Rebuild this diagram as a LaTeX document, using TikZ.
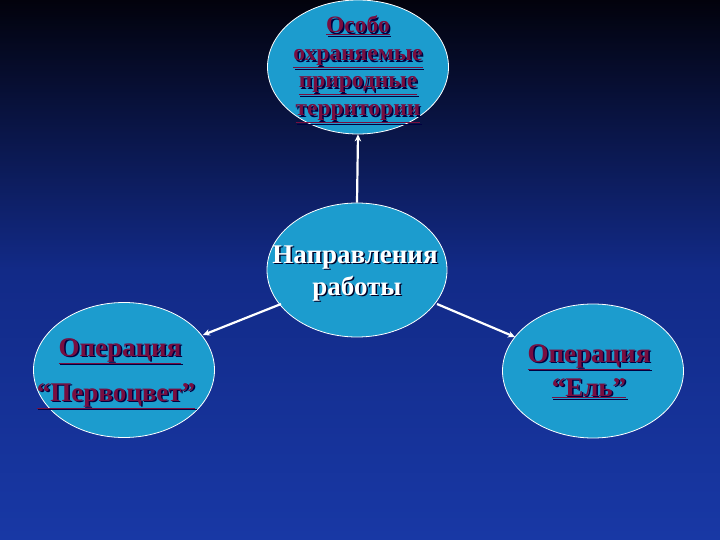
\documentclass[tikz,border=0pt]{standalone}
\usepackage{fontspec}
\setmainfont{Liberation Serif}
\usetikzlibrary{shapes.geometric,arrows.meta}
\definecolor{bubble}{RGB}{28,156,206}
\definecolor{maroon}{RGB}{120,14,64}
\definecolor{bgtop}{RGB}{2,2,12}
\definecolor{bgmid}{RGB}{18,42,135}
\definecolor{bgbot}{RGB}{24,56,165}
\tikzset{
  bub/.style={ellipse, draw=white, line width=0.8pt, fill=bubble, minimum width=#1, inner sep=0pt},
  bub/.default={181pt},
  lbl/.style={font=\bfseries\fontsize{#1}{#1}\selectfont, text=maroon, inner sep=0pt, anchor=base},
  shd/.style={font=\bfseries\fontsize{#1}{#1}\selectfont, text=black!75!blue, inner sep=0pt, anchor=base},
  wlbl/.style={font=\bfseries\fontsize{27}{30}\selectfont, text=white, inner sep=0pt, anchor=base},
  wshd/.style={font=\bfseries\fontsize{27}{30}\selectfont, text=black!85!blue, inner sep=0pt, anchor=base},
  conn/.style={draw=white, line width=2.2pt, -{Stealth[length=7pt,width=6.5pt]}},
}
\begin{document}
\begin{tikzpicture}[x=1pt,y=-1pt]
\useasboundingbox (0,0) rectangle (720,540);
\shade[top color=bgtop, bottom color=bgbot, middle color=bgmid] (0,0) rectangle (720,540);
% ellipses
\node[bub, minimum height=134pt] (top) at (358,67) {};
\node[bub, minimum height=134pt, minimum width=180pt] (ctr) at (357,270) {};
\node[bub, minimum height=135pt] (left) at (124,370) {};
\node[bub, minimum height=134pt] (right) at (593,371) {};
% connector end points on the ellipse rims
\coordinate (cl) at (281,304);
\coordinate (cr) at (437,304);
\coordinate (lt) at (203,335);
\coordinate (rt) at (515,337);
% connectors
\draw[conn] (ctr.north) -- (top.south);
\draw[conn] (cl) -- (lt);
\draw[conn] (cr) -- (rt);
% top text
\foreach \t/\yy [count=\i] in {Особо/33, охраняемые/61, природные/88, территории/116}{
  \node[shd=23.5] at (359.5,\yy+1.5) {\underline{\t}};
  \node[lbl=23.5] (t\i) at (358,\yy) {\underline{\t}};
}
% centre text
\node[wshd] at (356.5,264.5) {Направления};
\node[wlbl] (c1) at (355,263) {Направления};
\node[wshd] at (358.5,296.5) {работы};
\node[wlbl] (c2) at (357,295) {работы};
% left text
\node[shd=27] at (121.5,357.5) {\underline{Операция}};
\node[lbl=27] (l1) at (120,356) {\underline{Операция}};
\node[shd=27] at (117.5,402.5) {\underline{“Первоцвет”}};
\node[lbl=27] (l2) at (116,401) {\underline{“Первоцвет”}};
% right text
\node[shd=27] at (590.5,363.5) {\underline{Операция}};
\node[lbl=27] (r1) at (589,362) {\underline{Операция}};
\node[shd=27] at (590.5,397.5) {\underline{“Ель”}};
\node[lbl=27] (r2) at (589,396) {\underline{“Ель”}};
\end{tikzpicture}
\end{document}
